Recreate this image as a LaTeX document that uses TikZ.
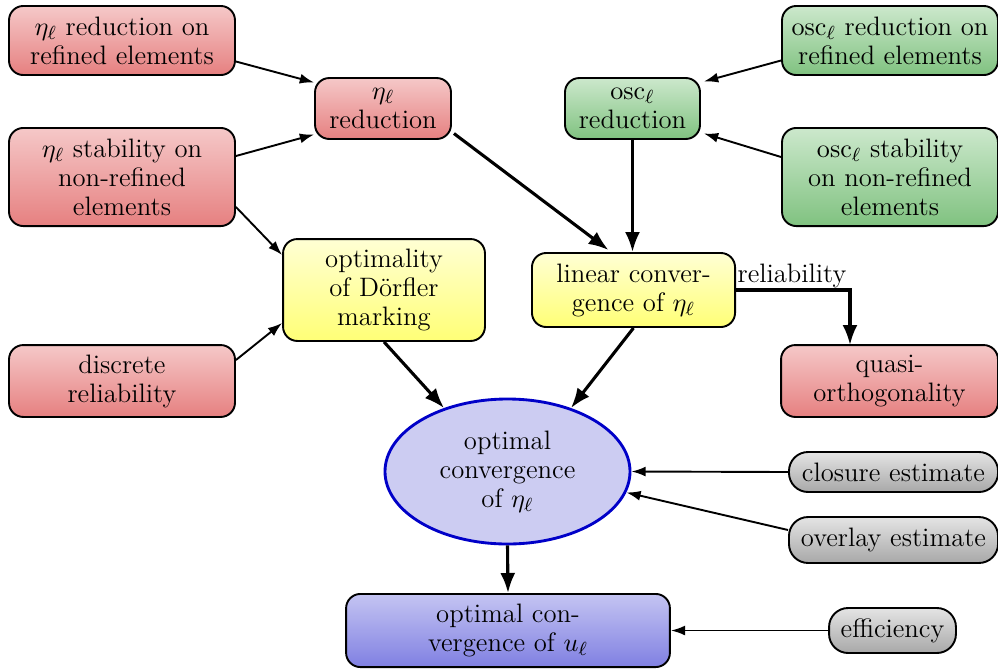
\documentclass[tikz,border=0pt]{standalone}
\usetikzlibrary{arrows.meta,calc,shapes.geometric}
\definecolor{redtop}{RGB}{245,200,200}
\definecolor{redbot}{RGB}{230,128,128}
\definecolor{greentop}{RGB}{204,232,204}
\definecolor{greenbot}{RGB}{128,194,128}
\definecolor{yeltop}{RGB}{255,255,212}
\definecolor{yelbot}{RGB}{255,255,118}
\definecolor{bluetop}{RGB}{196,196,242}
\definecolor{bluebot}{RGB}{128,128,226}
\definecolor{ellfill}{RGB}{204,204,242}
\definecolor{ellline}{RGB}{0,0,200}
\definecolor{graytop}{RGB}{228,228,228}
\definecolor{graybot}{RGB}{168,168,168}
\tikzset{
  every node/.style={font=\fontsize{11.2}{12.2}\selectfont},
  box/.style={draw=black, line width=0.8pt, rounded corners=6pt, align=center, inner sep=0pt},
  redbox/.style={box, top color=redtop, bottom color=redbot},
  greenbox/.style={box, top color=greentop, bottom color=greenbot},
  yelbox/.style={box, top color=yeltop, bottom color=yelbot},
  bluebox/.style={box, top color=bluetop, bottom color=bluebot},
  graybox/.style={box, rounded corners=8pt, top color=graytop, bottom color=graybot},
  thinarrow/.style={draw, line width=0.8pt, -{Latex[length=6pt,width=4.2pt]}},
  thickarrow/.style={draw, line width=1.3pt, -{Latex[length=8.4pt,width=6.3pt]}},
}
\begin{document}
\begin{tikzpicture}[x=0.42pt,y=-0.42pt]
\useasboundingbox (0,0) rectangle (998,669);
% nodes
\node[redbox, minimum width=94.9pt, minimum height=29pt] (A) at (122,40.5)
  {$\eta_\ell$ reduction on\\refined elements};
\node[redbox, minimum width=94.9pt, minimum height=41.2pt] (B) at (122,177)
  {$\eta_\ell$ stability on\\non-refined\\elements};
\node[redbox, minimum width=57.1pt, minimum height=25.6pt] (C) at (383,108.5)
  {$\eta_\ell$\\reduction};
\node[greenbox, minimum width=56.7pt, minimum height=25.6pt] (D) at (632.5,108.5)
  {$\mathrm{osc}_\ell$\\reduction};
\node[greenbox, minimum width=90.7pt, minimum height=29pt] (E) at (890,40.5)
  {$\mathrm{osc}_\ell$ reduction on\\refined elements};
\node[greenbox, minimum width=90.7pt, minimum height=41.2pt] (F) at (890,177)
  {$\mathrm{osc}_\ell$ stability\\on non-refined\\elements};
\node[yelbox, minimum width=84.8pt, minimum height=42.8pt] (G) at (384,290)
  {optimality\\of D\"orfler\\marking};
\node[yelbox, minimum width=85.3pt, minimum height=31.1pt] (H) at (633.5,290)
  {linear conver-\\gence of $\eta_\ell$};
\node[redbox, minimum width=94.9pt, minimum height=30.2pt] (I) at (122,381)
  {discrete\\reliability};
\node[redbox, minimum width=91.1pt, minimum height=30.2pt] (J) at (889.5,381)
  {quasi-\\orthogonality};
\node[ellipse, draw=ellline, line width=1.2pt, fill=ellfill, align=center, inner sep=0pt,
  minimum width=102.9pt, minimum height=60.9pt] (K) at (507.5,471.5)
  {optimal\\convergence\\of $\eta_\ell$};
\node[graybox, minimum width=87.8pt, minimum height=16.8pt] (L) at (893.5,472)
  {closure estimate};
\node[graybox, minimum width=87.8pt, minimum height=19.3pt] (M) at (893.5,540)
  {overlay estimate};
\node[bluebox, minimum width=136pt, minimum height=30.7pt] (N) at (508,630.5)
  {optimal con-\\vergence of $u_\ell$};
\node[graybox, minimum width=53.3pt, minimum height=18.9pt] (O) at (892.5,630.5)
  {efficiency};
\coordinate (jn) at (850,345);
% connectors
\draw[thinarrow] ($(A.east)+(0,21)$) -- ($(C.west)+(0,-26)$);
\draw[thinarrow] ($(B.east)+(0,-21)$) -- ($(C.west)+(0,26)$);
\draw[thinarrow] ($(B.east)+(0,30)$) -- ($(G.west)+(0,-35)$);
\draw[thinarrow] ($(I.east)+(0,-21)$) -- ($(G.west)+(0,33)$);
\draw[thinarrow] ($(E.west)+(0,20)$) -- ($(D.east)+(3,-27)$);
\draw[thinarrow] ($(F.west)+(0,-20)$) -- ($(D.east)+(3,25)$);
\draw[thickarrow] ($(C.east)+(2,25)$) -- ($(H.north)+(-25,-2)$);
\draw[thickarrow] (D.south) -- (D.south |- H.north);
\draw[thickarrow] (H.east) -- (H.east -| jn) -- (jn);
\node[anchor=base, inner sep=0pt] (rel) at (792,282) {reliability};
\draw[thickarrow] (G.south) -- (K.135);
\draw[thickarrow] (H.south) -- (K.45);
\draw[thinarrow] (L.west) -- (K.east);
\draw[thinarrow] ($(M.west)+(0,-10)$) -- (K.-10);
\draw[thickarrow] (K.south) -- (N.north);
\draw[thinarrow] (O.west) -- (N.east);
\end{tikzpicture}
\end{document}
